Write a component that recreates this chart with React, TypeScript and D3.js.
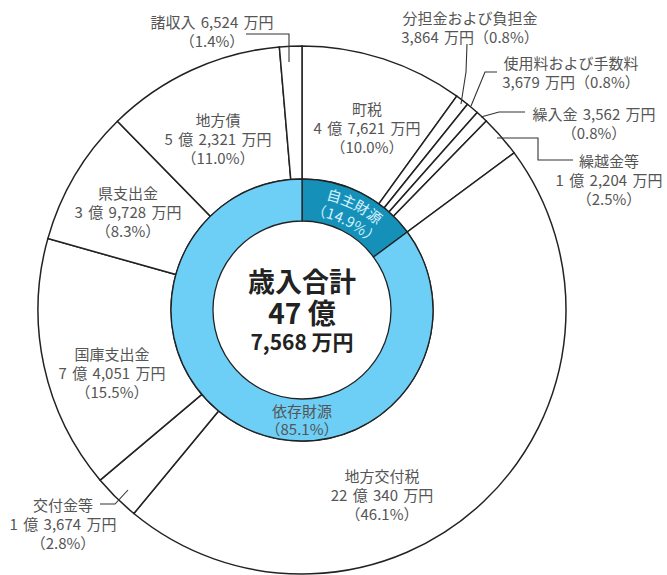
import React from 'react';
import * as d3 from 'd3';

const categories = ['町税', '分担金および負担金', '使用料および手数料', '繰入金', '繰越金等', '地方交付税', '交付金等', '国庫支出金', '県支出金', '地方債', '諸収入'];
const values = [47621, 3864, 3679, 3562, 12204, 220340, 13674, 74051, 39728, 52321, 6524];
const amountLabels = ['4 億 7,621 万円', '3,864 万円', '3,679 万円', '3,562 万円', '1 億 2,204 万円', '22 億 340 万円', '1 億 3,674 万円', '7 億 4,051 万円', '3 億 9,728 万円', '5 億 2,321 万円', '6,524 万円'];
const percentLabels = ['10.0%', '0.8%', '0.8%', '0.8%', '2.5%', '46.1%', '2.8%', '15.5%', '8.3%', '11.0%', '1.4%'];

const groupNames = ['自主財源', '依存財源'];
const groupValues = [47621 + 3864 + 3679 + 3562 + 12204, 220340 + 13674 + 74051 + 39728 + 52321 + 6524];
const groupPercents = ['14.9%', '85.1%'];

const totalLines = ['歳入合計', '47 億', '7,568 万円'];

// label layout: text lines per slice, centre x/y of first line
const labelLayout = [
  { x: 367, y: 108, lines: [0, 1, 2] },
  { x: 470, y: 17, lines: [0, 3] },
  { x: 571, y: 62, lines: [0, 3] },
  { x: 594, y: 113, lines: [4, 2] },
  { x: 609, y: 160, lines: [0, 1, 2] },
  { x: 382, y: 475, lines: [0, 1, 2] },
  { x: 63, y: 504, lines: [0, 1, 2] },
  { x: 112, y: 353, lines: [0, 1, 2] },
  { x: 128, y: 192, lines: [0, 1, 2] },
  { x: 218, y: 119, lines: [0, 1, 2] },
  { x: 212, y: 21, lines: [4, 2] },
];

const leaders: [number, number][][] = [
  [[467, 44], [466, 72], [461, 104]],
  [[497, 72], [485, 72], [471, 106]],
  [[525, 112], [499, 112], [481, 117]],
  [[573, 160], [538, 160], [538, 138], [497, 138]],
  [[100, 504], [115, 504], [128, 490]],
  [[246, 34], [289, 34], [289, 62]],
];

const W = 667, H = 575;
const cx = 302, cy = 310;
const rOuter = 264, rDonut = 131, rInner = 89;
const FONT = '"Noto Sans CJK JP", "Noto Sans", sans-serif';

export default function App() {
  const pie = d3.pie<number>().sort(null).value(d => d);
  const arcs = pie(values);
  const gArcs = pie(groupValues);
  const outerArc = d3.arc<d3.PieArcDatum<number>>().innerRadius(rDonut).outerRadius(rOuter);
  const donutArc = d3.arc<d3.PieArcDatum<number>>().innerRadius(rInner).outerRadius(rDonut);
  const line = d3.line();

  const g0 = gArcs[0];
  const mid = (g0.startAngle + g0.endAngle) / 2;
  const arcPath = (r: number) => {
    const a0 = mid - 1.4, a1 = mid + 1.4;
    const p = d3.path();
    p.arc(0, 0, r, a0 - Math.PI / 2, a1 - Math.PI / 2, false);
    return p.toString();
  };

  const lineText = (i: number, k: number) => {
    if (k === 0) return categories[i];
    if (k === 1) return amountLabels[i];
    if (k === 2) return `（${percentLabels[i]}）`;
    if (k === 3) return `${amountLabels[i]}（${percentLabels[i]}）`;
    return `${categories[i]} ${amountLabels[i]}`;
  };

  return (
    <svg width={W} height={H} style={{ position: 'absolute', left: 0, top: 0, background: '#fff' }}>
      <defs>
        <path id="jishu1" d={arcPath(113)} transform={`translate(${cx},${cy})`} />
        <path id="jishu2" d={arcPath(95)} transform={`translate(${cx},${cy})`} />
      </defs>
      <g transform={`translate(${cx},${cy})`}>
        {arcs.map((a, i) => (
          <path key={i} d={outerArc(a) || ''} fill="#fff" stroke="#222" strokeWidth={1.5} />
        ))}
        {gArcs.map((a, i) => (
          <path key={i} d={donutArc(a) || ''} fill={i === 0 ? '#1591b9' : '#6dcff6'} stroke="#222" strokeWidth={1.3} />
        ))}
      </g>
      {leaders.map((pts, i) => (
        <path key={i} d={line(pts) || ''} fill="none" stroke="#333" strokeWidth={1.1} />
      ))}
      <g fontFamily={FONT} fontSize={15} fill="#555" textAnchor="middle" wordSpacing={2}>
        {labelLayout.map((l, i) => (
          <g key={i}>
            {l.lines.map((k, j) => (
              <text key={j} x={l.x} y={l.y + j * 19} dominantBaseline="central">{lineText(i, k)}</text>
            ))}
          </g>
        ))}
        <text x={cx} y={410} dominantBaseline="central">{groupNames[1]}</text>
        <text x={cx} y={428} dominantBaseline="central">{`（${groupPercents[1]}）`}</text>
      </g>
      <g fontFamily={FONT} fontSize={14.5} fill="#d6f2ff" textAnchor="middle">
        <text><textPath href="#jishu1" startOffset="50%">{groupNames[0]}</textPath></text>
        <text><textPath href="#jishu2" startOffset="50%">{`（${groupPercents[0]}）`}</textPath></text>
      </g>
      <g fontFamily={FONT} fill="#222" textAnchor="middle" fontWeight="bold">
        <text x={cx} y={280} fontSize={27} dominantBaseline="central">{totalLines[0]}</text>
        <text x={cx} y={312} fontSize={28} dominantBaseline="central">{totalLines[1]}</text>
        <text x={cx} y={341} fontSize={21} dominantBaseline="central">{totalLines[2]}</text>
      </g>
    </svg>
  );
}
